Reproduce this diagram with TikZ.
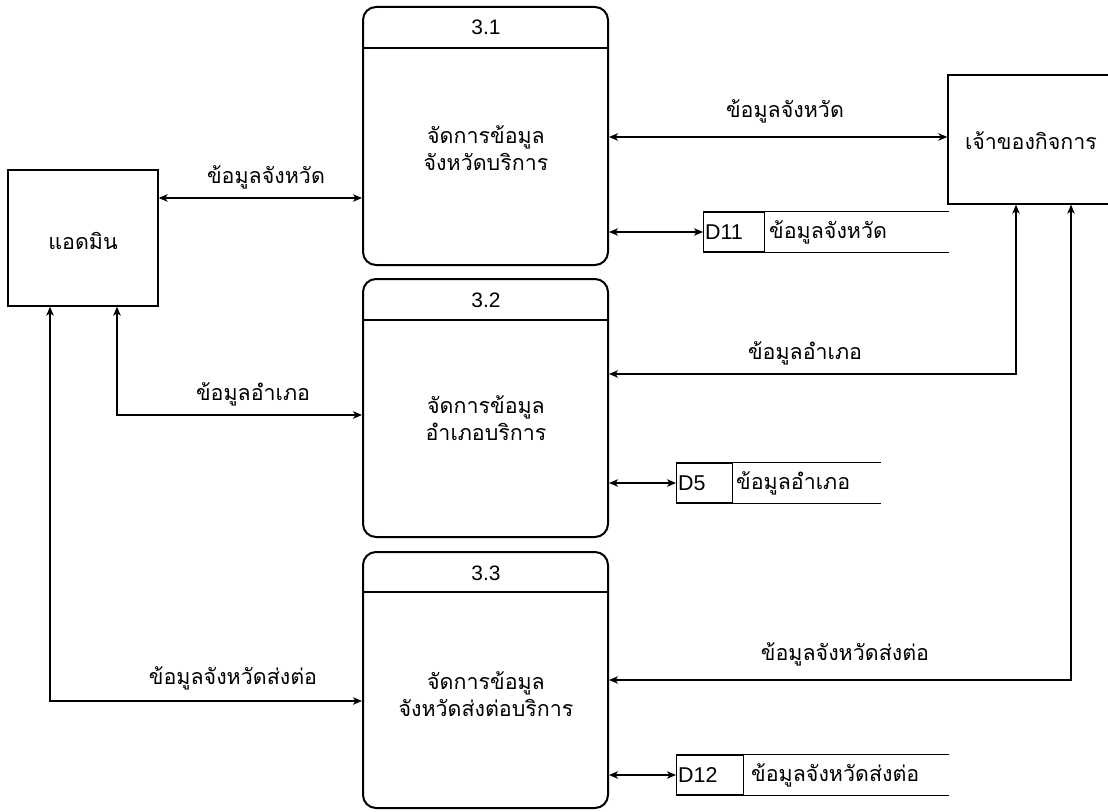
\documentclass[tikz,border=0pt]{standalone}
\usepackage{fontspec}
\setmainfont{Liberation Sans}
\newfontfamily\thai[Script=Thai]{Loma}
\usetikzlibrary{arrows.meta}
\tikzset{
  tip/.tip={Stealth[length=9bp,width=7.5bp,inset=2.5bp]},
  proc/.style={draw, line width=2bp, rounded corners=13bp, minimum width=245bp, minimum height=258bp, inner sep=0pt},
  ext/.style={draw, line width=1.3bp, inner sep=0pt},
  flow/.style={line width=1.3bp, tip-tip},
  lbl/.style={font=\thai\fontsize{21.5}{27}\selectfont, inner sep=1bp},
  num/.style={font=\fontsize{21}{24}\selectfont, inner sep=1bp},
  storeid/.style={draw, line width=1.3bp, minimum height=40bp, inner sep=0pt},
  idtxt/.style={font=\fontsize{21.5}{24}\selectfont, inner sep=1bp, anchor=west},
  sline/.style={line width=1.3bp},
  hline/.style={line width=2bp}
}
\begin{document}
\begin{tikzpicture}[x=1bp,y=-1bp]
\useasboundingbox[fill=white] (0,0) rectangle (1108,812);

% processes
\node[proc] (p1) at (485.5,136) {};
\draw[hline] (p1.west |- 0,48) -- (p1.east |- 0,48);
\node[num] (p1n) at (486,27) {3.1};
\node[lbl, align=center] (p1t) at (486,148) {จัดการข้อมูล\\จังหวัดบริการ};

\node[proc] (p2) at (485.5,408) {};
\draw[hline] (p2.west |- 0,320) -- (p2.east |- 0,320);
\node[num] (p2n) at (486,300) {3.2};
\node[lbl, align=center] (p2t) at (486,418) {จัดการข้อมูล\\อำเภอบริการ};

\node[proc, minimum height=256bp] (p3) at (485.5,680) {};
\draw[hline] (p3.west |- 0,592) -- (p3.east |- 0,592);
\node[num] (p3n) at (486,573) {3.3};
\node[lbl, align=center] (p3t) at (486,694) {จัดการข้อมูล\\จังหวัดส่งต่อบริการ};

% external entities
\node[ext, minimum width=150bp, minimum height=136bp] (admin) at (83,238) {};
\node[lbl] (admint) at (83,241) {แอดมิน};
\node[ext, minimum width=170bp, minimum height=129bp] (owner) at (1033,139.5) {};
\node[lbl] (ownert) at (1031,141) {เจ้าของกิจการ};

% data stores
\node[storeid, minimum width=61bp, anchor=west] (d11) at (703,232) {};
\node[idtxt] (d11i) at (704,232) {D11};
\node[lbl, anchor=west] (d11t) at (768,232) {ข้อมูลจังหวัด};
\draw[sline] (d11.north east) -- ++(184,0);
\draw[sline] (d11.south east) -- ++(184,0);

\node[storeid, minimum width=56bp, anchor=west] (d5) at (676,483) {};
\node[idtxt] (d5i) at (677,483) {D5};
\node[lbl, anchor=west] (d5t) at (735,483) {ข้อมูลอำเภอ};
\draw[sline] (d5.north east) -- ++(148,0);
\draw[sline] (d5.south east) -- ++(148,0);

\node[storeid, minimum width=67bp, anchor=west] (d12) at (676,775) {};
\node[idtxt] (d12i) at (677,775) {D12};
\node[lbl, anchor=west] (d12t) at (750,775) {ข้อมูลจังหวัดส่งต่อ};
\draw[sline] (d12.north east) -- ++(205,0);
\draw[sline] (d12.south east) -- ++(205,0);

% flows
\draw[flow] (admin.east |- 0,198) -- (p1.west |- 0,198);
\node[lbl] (f1) at (266,177) {ข้อมูลจังหวัด};
\draw[flow] (p1.east |- 0,137) -- (owner.west |- 0,137);
\node[lbl] (f2) at (785,111) {ข้อมูลจังหวัด};
\draw[flow] (p1.east |- d11.west) -- (d11.west);

\draw[flow] (admin.south -| 117,0) |- (p2.west |- 0,415);
\node[lbl] (f3) at (253,394) {ข้อมูลอำเภอ};
\draw[flow] (p2.east |- 0,374) -| (owner.south -| 1016,0);
\node[lbl] (f4) at (805,353) {ข้อมูลอำเภอ};
\draw[flow] (p2.east |- d5.west) -- (d5.west);

\draw[flow] (admin.south -| 50,0) |- (p3.west |- 0,701);
\node[lbl] (f5) at (233,678) {ข้อมูลจังหวัดส่งต่อ};
\draw[flow] (p3.east |- 0,680) -| (owner.south -| 1071,0);
\node[lbl] (f6) at (845,654) {ข้อมูลจังหวัดส่งต่อ};
\draw[flow] (p3.east |- d12.west) -- (d12.west);
\end{tikzpicture}
\end{document}
